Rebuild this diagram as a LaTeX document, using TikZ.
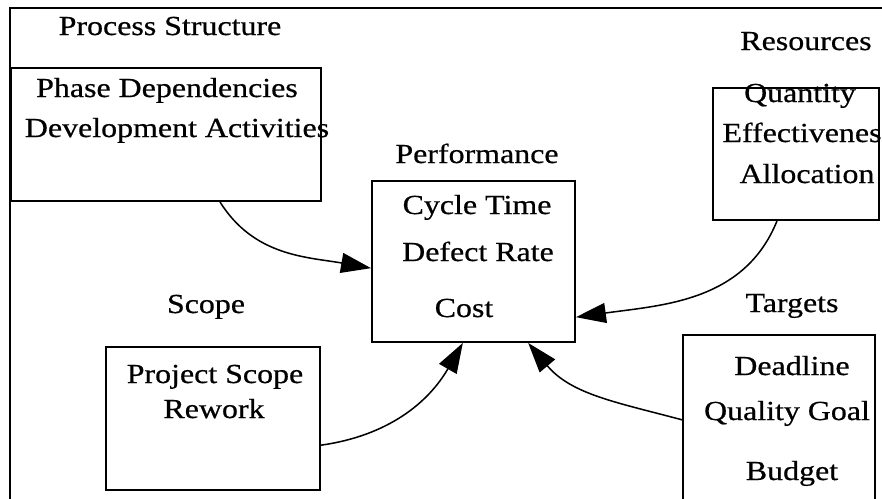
\documentclass[tikz,border=0pt]{standalone}
\usepackage{fontspec}
\setmainfont{Liberation Serif}[FakeStretch=1.16, FakeBold=0.6]
\usetikzlibrary{arrows.meta, positioning}

\begin{document}
\begin{tikzpicture}[x=0.03cm, y=0.03cm,
    box/.style={draw, line width=1.6pt, inner sep=0pt},
    lbl/.style={anchor=base, inner sep=0pt, font=\fontsize{23.5}{27}\selectfont},
    link/.style={line width=1.3pt, -{Triangle[length=0.9cm, width=0.6cm]}}]
  \clip (0,0) rectangle (882,-499);
  % outer frame
  \draw[line width=1.6pt] (10,-499) |- (882,-8);
  % boxes
  \node[box, minimum width=9.3cm, minimum height=3.99cm] (procbox) at (166,-134.5) {};
  \node[box, minimum width=6.09cm, minimum height=4.83cm] (perfbox) at (473.5,-261.5) {};
  \node[box, minimum width=4.98cm, minimum height=3.96cm] (resbox) at (796,-154) {};
  \node[box, minimum width=6.42cm, minimum height=4.29cm] (scopebox) at (213,-418.5) {};
  \node[box, minimum width=5.76cm, minimum height=5.25cm] (targetbox) at (779,-422.5) {};
  % titles
  \node[lbl] (proc) at (170,-35) {Process Structure};
  \node[lbl] (perf) at (477,-163) {Performance};
  \node[lbl] (res) at (806,-50) {Resources};
  \node[lbl] (scope) at (206,-313) {Scope};
  \node[lbl] (target) at (792,-312) {Targets};
  % box contents
  \node[lbl] (phase) at (167,-97) {Phase Dependencies};
  \node[lbl] (devact) at (177,-137) {Development Activities};
  \node[lbl] (cycle) at (477,-214) {Cycle Time};
  \node[lbl] (defect) at (478,-261) {Defect Rate};
  \node[lbl] (cost) at (464,-317) {Cost};
  \node[lbl] (quantity) at (800,-102) {Quantity};
  \node[lbl] (effect) at (802,-142) {Effectivenes};
  \node[lbl] (alloc) at (807,-183) {Allocation};
  \node[lbl] (projscope) at (215,-383) {Project Scope};
  \node[lbl] (rework) at (214,-418) {Rework};
  \node[lbl] (deadline) at (792,-375) {Deadline};
  \node[lbl] (quality) at (787,-420) {Quality Goal};
  \node[lbl] (budget) at (792,-480) {Budget};
  % links into performance
  \draw[link] ([xshift=1.62cm]procbox.south) to[out=-58, in=170] ([yshift=-0.2cm]perfbox.west);
  \draw[link] ([xshift=-0.57cm]resbox.south) to[out=-112, in=8] ([yshift=-1.67cm]perfbox.east);
  \draw[link] ([yshift=-0.8cm]scopebox.east) to[out=8, in=240] ([xshift=-0.32cm]perfbox.south);
  \draw[link] ([yshift=0.08cm]targetbox.west) to[out=165, in=-50] ([xshift=1.64cm]perfbox.south);
\end{tikzpicture}
\end{document}
